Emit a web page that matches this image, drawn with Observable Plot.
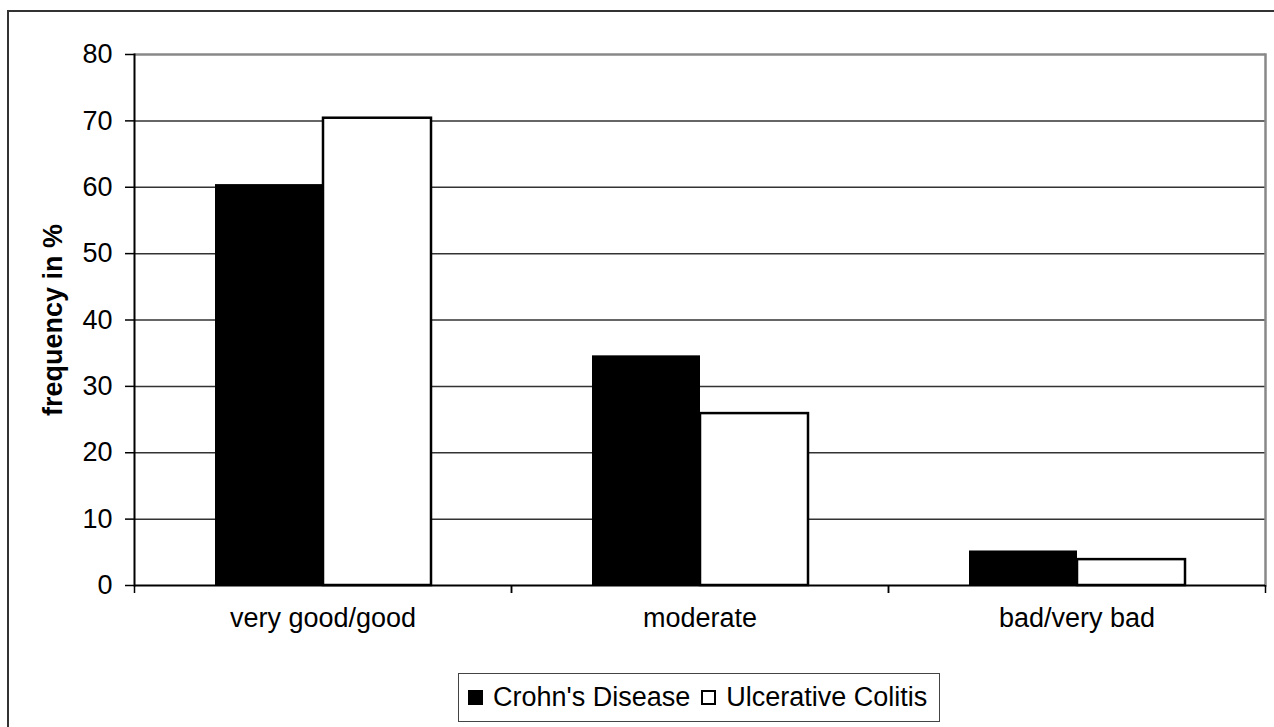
<!DOCTYPE html>
<html>
<head>
<meta charset="utf-8">
<script src="https://cdn.jsdelivr.net/npm/d3@7"></script>
<script src="https://cdn.jsdelivr.net/npm/@observablehq/plot@0.6"></script>
<style>
  html, body { margin: 0; padding: 0; background: #fff; overflow: hidden; }
  body { width: 1274px; height: 727px; position: relative; font-family: "Liberation Sans", Arial, sans-serif; }
  #outer { position: absolute; left: 7px; top: 10px; width: 1400px; height: 900px; border: 2px solid #333; box-sizing: border-box; }
  #chart { position: absolute; left: 0; top: 0; }
  #legend { position: absolute; left: 458px; top: 673px; width: 482px; height: 49px; border: 1.5px solid #444; box-sizing: border-box;
            display: flex; align-items: center; padding-left: 9px; font-size: 27px; color: #000; background: #fff; white-space: nowrap; }
  .sw { width: 15px; height: 15px; box-sizing: border-box; display: inline-block; }
  .sw.black { background: #000; margin-right: 10px; }
  .sw.white { background: #fff; border: 2px solid #000; margin-left: 11px; margin-right: 10px; }
</style>
</head>
<body>
<div id="outer"></div>
<div id="chart"></div>
<div id="legend"></div>
<script>
const categories = ["very good/good", "moderate", "bad/very bad"];
const series = ["Crohn's Disease", "Ulcerative Colitis"];
const crohns = [60.4, 34.6, 5.2];
const colitis = [70.4, 25.9, 3.9];
const yTicks = [0, 10, 20, 30, 40, 50, 60, 70, 80];
const yTitle = "frequency in %";

const data = categories.flatMap((c, i) => [
  {category: c, series: series[0], value: crohns[i]},
  {category: c, series: series[1], value: colitis[i]}
]);

const W = 1274, H = 645, ML = 134, MR = 9, MT = 54, MB = 60;
const band = (W - ML - MR) / categories.length;

const chart = Plot.plot({
  width: W, height: H,
  marginLeft: ML, marginRight: MR, marginTop: MT, marginBottom: MB,
  style: {fontFamily: "'Liberation Sans', Arial, sans-serif", background: "transparent", color: "#000", overflow: "visible"},
  fx: {domain: categories, padding: 0, label: null},
  x: {domain: series, paddingInner: 0, paddingOuter: 0.737, axis: null},
  y: {domain: [0, 80], label: null},
  color: {domain: series, range: ["#000", "#fff"]},
  marks: [
    Plot.gridY(yTicks.filter(d => d > 0 && d < 80), {stroke: "#333", strokeOpacity: 1, strokeWidth: 1.5}),
    Plot.ruleY([80], {stroke: "#888", strokeWidth: 2.5}),
    Plot.frame({anchor: "right", facetAnchor: "right", stroke: "#888", strokeWidth: 2.5}),
    Plot.barY(data, {fx: "category", x: "series", y: "value", fill: "series",
      stroke: d => d.series === series[1] ? "#000" : "none", strokeWidth: 2.5}),
    Plot.ruleY([0], {stroke: "#000", strokeWidth: 2}),
    Plot.frame({anchor: "left", facetAnchor: "left", stroke: "#000", strokeWidth: 2}),
    Plot.axisY({ticks: yTicks, tickSize: 9, tickPadding: 13, fontSize: 27, label: null, stroke: "#000", strokeWidth: 1.5, strokeOpacity: 1}),
    Plot.axisFx({anchor: "bottom", tickSize: 0, tickPadding: 22, fontSize: 27, label: null}),
    Plot.axisFx({anchor: "bottom", tickSize: 8, tickFormat: () => "", label: null, dx: -band / 2, stroke: "#000", strokeWidth: 1.5, strokeOpacity: 1}),
    Plot.axisFx({anchor: "bottom", tickSize: 8, tickFormat: () => "", label: null, dx: band / 2, stroke: "#000", strokeWidth: 1.5, strokeOpacity: 1}),
    Plot.text([yTitle], {frameAnchor: "left", facetAnchor: "left", textAnchor: "middle", rotate: -90, dx: -81, fontWeight: "bold", fontSize: 27, fill: "#000"})
  ]
});
document.getElementById("chart").appendChild(chart);

const legend = document.getElementById("legend");
series.forEach((s, i) => {
  const sw = document.createElement("span");
  sw.className = "sw " + (i === 0 ? "black" : "white");
  legend.appendChild(sw);
  const t = document.createElement("span");
  t.textContent = s;
  legend.appendChild(t);
});
</script>
</body>
</html>
